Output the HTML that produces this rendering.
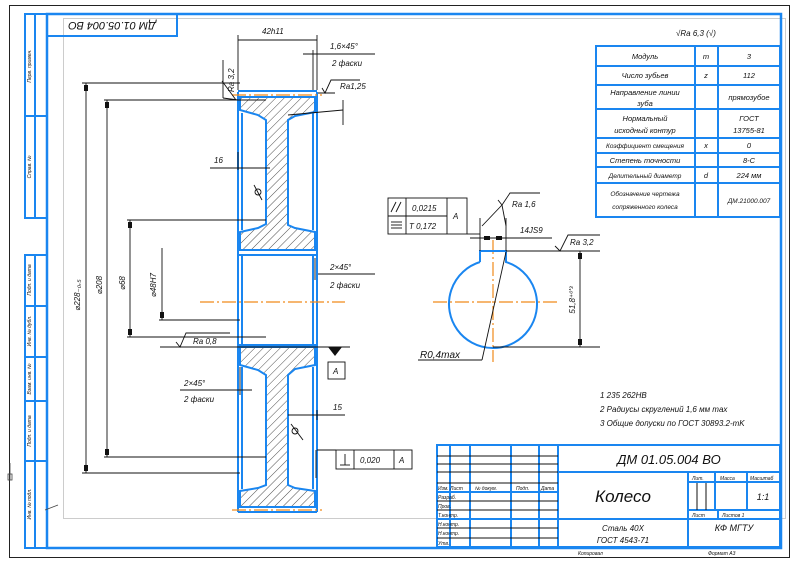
<!DOCTYPE html>
<html><head><meta charset="utf-8"><style>
html,body{margin:0;padding:0;background:#fff}
svg{display:block}
text{font-family:"Liberation Sans","DejaVu Sans",sans-serif;font-style:italic;fill:#111}
</style></head><body>
<svg width="797" height="568" viewBox="0 0 797 568" xmlns="http://www.w3.org/2000/svg">
<defs>
<pattern id="h" patternUnits="userSpaceOnUse" width="6" height="6" patternTransform="rotate(45)">
<line x1="0" y1="0" x2="0" y2="6" stroke="#222" stroke-width="0.8"/>
</pattern>
</defs>
<!-- frames -->
<rect x="9.5" y="5.5" width="780" height="552" fill="none" stroke="#222" stroke-width="1"/>
<rect x="63.5" y="18.5" width="722" height="500" fill="none" stroke="#ccc" stroke-width="1"/>
<rect x="47" y="14" width="734" height="534" fill="none" stroke="#1a86f0" stroke-width="2.5"/>
<!-- left stamps -->
<g fill="none" stroke="#1a86f0" stroke-width="2">
<rect x="25" y="14" width="22" height="204"/><line x1="35" y1="14" x2="35" y2="218"/><line x1="25" y1="116" x2="47" y2="116"/>
<rect x="25" y="255" width="22" height="293"/><line x1="35" y1="255" x2="35" y2="548"/>
<line x1="25" y1="306" x2="47" y2="306"/><line x1="25" y1="357" x2="47" y2="357"/><line x1="25" y1="401" x2="47" y2="401"/><line x1="25" y1="461" x2="47" y2="461"/>
<rect x="47" y="14" width="130" height="22"/>
</g>
<g font-size="5">
<text transform="translate(31,66) rotate(-90)" text-anchor="middle">Перв. примен.</text>
<text transform="translate(31,167) rotate(-90)" text-anchor="middle">Справ. №</text>
<text transform="translate(31,280) rotate(-90)" text-anchor="middle">Подп. и дата</text>
<text transform="translate(31,331) rotate(-90)" text-anchor="middle">Инв. № дубл.</text>
<text transform="translate(31,379) rotate(-90)" text-anchor="middle">Взам. инв. №</text>
<text transform="translate(31,431) rotate(-90)" text-anchor="middle">Подп. и дата</text>
<text transform="translate(31,504) rotate(-90)" text-anchor="middle">Инв. № подл.</text>
</g>
<text transform="translate(112,25) rotate(180)" text-anchor="middle" dominant-baseline="middle" font-size="11">ДМ 01.05.004 ВО</text>
<!-- axes -->
<g stroke="#444" fill="none" stroke-width="0.8"><line x1="10" y1="463" x2="10" y2="480"/><line x1="45" y1="510" x2="58" y2="505"/><rect x="8" y="474" width="4" height="6"/></g>

<!-- wheel section hatched -->
<g fill="url(#h)" stroke="#1a86f0" stroke-width="2">
<polygon points="240,97 315,97 315,112 295,116 288,120 288,225 295,228 315,232 315,250 240,250 240,232 258,228 266,224 266,120 258,115 240,110"/>
<polygon points="240,347 315,347 315,365 295,369 288,375 288,485 295,488 315,491 315,507 240,507 240,491 258,488 266,485 266,375 258,370 240,365"/>
</g>
<g fill="none" stroke="#1a86f0" stroke-width="2">
<line x1="238" y1="92" x2="238" y2="512"/><line x1="317" y1="92" x2="317" y2="512"/>
<line x1="242" y1="113" x2="242" y2="230"/><line x1="313" y1="113" x2="313" y2="230"/>
<line x1="242" y1="367" x2="242" y2="489"/><line x1="313" y1="367" x2="313" y2="489"/>
<line x1="242" y1="255" x2="242" y2="345"/><line x1="313" y1="255" x2="313" y2="345"/>
<line x1="238" y1="91" x2="317" y2="91"/><line x1="238" y1="512" x2="317" y2="512"/>
<line x1="238" y1="255" x2="317" y2="255"/><line x1="238" y1="345" x2="317" y2="345"/>
</g>
<g stroke="#f08a1a" stroke-width="1.2" stroke-dasharray="14,3,2,3">
<line x1="232" y1="95" x2="322" y2="95"/><line x1="232" y1="510" x2="322" y2="510"/>
<line x1="200" y1="302" x2="345" y2="302"/>
<line x1="433" y1="302" x2="557" y2="302"/><line x1="493" y1="240" x2="493" y2="362"/>
</g>

<!-- dimensions left -->
<g stroke="#111" stroke-width="0.9" fill="none">
<line x1="238" y1="35" x2="238" y2="90"/><line x1="317" y1="35" x2="317" y2="90"/><line x1="238" y1="40" x2="317" y2="40"/>
<line x1="303" y1="54" x2="375" y2="54"/><line x1="313" y1="50" x2="313" y2="90"/>
<line x1="318" y1="93" x2="335" y2="93"/><polyline points="322,88 325,93 331,80 360,80"/>
<line x1="222" y1="81" x2="236" y2="100"/><line x1="223" y1="60" x2="223" y2="98"/><line x1="223" y1="98" x2="238" y2="100"/>
<line x1="210" y1="168" x2="270" y2="168"/><line x1="238" y1="152" x2="238" y2="170"/>
<line x1="288" y1="115" x2="343" y2="110"/><line x1="343" y1="100" x2="343" y2="125"/>
<line x1="82" y1="83" x2="240" y2="83"/><line x1="82" y1="473" x2="240" y2="473"/><line x1="86" y1="83" x2="86" y2="473"/>
<line x1="104" y1="100" x2="266" y2="100"/><line x1="104" y1="457" x2="266" y2="457"/><line x1="107" y1="100" x2="107" y2="457"/>
<line x1="127" y1="220" x2="266" y2="220"/><line x1="127" y1="337" x2="266" y2="337"/><line x1="130" y1="220" x2="130" y2="337"/>
<line x1="159" y1="320" x2="240" y2="320"/><line x1="162" y1="248" x2="162" y2="320"/>
<line x1="160" y1="347" x2="350" y2="347"/><polyline points="176,342 180,347 186,333 230,333"/>
<line x1="318" y1="274" x2="375" y2="274"/><line x1="315" y1="258" x2="315" y2="280"/>
<line x1="180" y1="390" x2="252" y2="390"/><line x1="240" y1="367" x2="240" y2="395"/>
<line x1="288" y1="415" x2="345" y2="415"/><line x1="317" y1="410" x2="317" y2="420"/>
<line x1="317" y1="450" x2="336" y2="450"/><line x1="316" y1="450" x2="316" y2="478"/>
<circle cx="258" cy="192" r="3"/><line x1="254" y1="185" x2="262" y2="200"/>
<circle cx="295" cy="431" r="3"/><line x1="291" y1="424" x2="303" y2="440"/>
</g>
<g fill="#111">
<rect x="84" y="85" width="4" height="6"/><rect x="84" y="465" width="4" height="6"/>
<rect x="105" y="102" width="4" height="6"/><rect x="105" y="449" width="4" height="6"/>
<rect x="128" y="222" width="4" height="6"/><rect x="128" y="329" width="4" height="6"/>
<rect x="160" y="312" width="4" height="6"/>
<polygon points="328,347 342,347 335,356"/>
</g>
<g font-size="8">
<text x="262" y="34">42h11</text>
<text x="330" y="49">1,6×45°</text>
<text x="332" y="66">2 фаски</text>
<text x="340" y="89">Ra1,25</text>
<text transform="translate(234,92) rotate(-90)">Ra 3,2</text>
<text x="214" y="163">16</text>
<text transform="translate(80,295) rotate(-90)" text-anchor="middle">⌀228₋₀,₅</text>
<text transform="translate(102,285) rotate(-90)" text-anchor="middle">⌀208</text>
<text transform="translate(125,283) rotate(-90)" text-anchor="middle">⌀68</text>
<text transform="translate(156,285) rotate(-90)" text-anchor="middle">⌀48H7</text>
<text x="193" y="344">Ra 0,8</text>
<text x="330" y="270">2×45°</text>
<text x="330" y="288">2 фаски</text>
<text x="184" y="386">2×45°</text>
<text x="184" y="402">2 фаски</text>
<text x="333" y="410">15</text>
</g>
<rect x="328" y="362" width="17" height="17" fill="#fff" stroke="#111" stroke-width="0.9"/>
<text x="333" y="374" font-size="8" fill="#33f">A</text>
<g stroke="#111" stroke-width="0.9" fill="none">
<rect x="336" y="450" width="76" height="19"/><line x1="354" y1="450" x2="354" y2="469"/><line x1="394" y1="450" x2="394" y2="469"/>
<line x1="345" y1="454" x2="345" y2="465"/><line x1="340" y1="465" x2="350" y2="465"/>
</g>
<text x="360" y="463" font-size="8">0,020</text><text x="399" y="463" font-size="8">A</text>

<!-- key view -->
<path d="M480,262 L480,251 L506,251 L506,262 A44,44 0 1 1 480,262" fill="none" stroke="#1a86f0" stroke-width="2"/>
<g stroke="#111" stroke-width="0.9" fill="none">
<line x1="506" y1="251" x2="600" y2="251"/><line x1="493" y1="347" x2="600" y2="347"/><line x1="580" y1="251" x2="580" y2="347"/>
<polyline points="555,246 560,251 568,235 600,235"/>
<line x1="480" y1="218" x2="480" y2="251"/><line x1="506" y1="218" x2="506" y2="251"/><line x1="470" y1="238" x2="552" y2="238"/>
<polyline points="498,200 502,205 510,193 540,193"/><line x1="502" y1="205" x2="482" y2="226"/><line x1="502" y1="205" x2="506" y2="226"/>
<line x1="467" y1="234" x2="480" y2="234"/>
<line x1="418" y1="360" x2="482" y2="360"/><line x1="482" y1="360" x2="506" y2="252"/>
<rect x="388" y="198" width="79" height="36"/><line x1="388" y1="216" x2="447" y2="216"/><line x1="406" y1="198" x2="406" y2="234"/><line x1="447" y1="198" x2="447" y2="234"/>
<line x1="391" y1="212" x2="396" y2="202"/><line x1="396" y1="212" x2="401" y2="202"/>
<line x1="391" y1="222" x2="402" y2="222"/><line x1="391" y1="225" x2="402" y2="225"/><line x1="391" y1="228" x2="402" y2="228"/>
</g>
<g fill="#111"><rect x="578" y="253" width="4" height="6"/><rect x="578" y="339" width="4" height="6"/><rect x="484" y="236" width="6" height="4"/><rect x="496" y="236" width="6" height="4"/></g>
<g font-size="8">
<text x="412" y="211">0,0215</text><text x="409" y="229">T 0,172</text><text x="453" y="219">A</text>
<text x="512" y="207">Ra 1,6</text><text x="520" y="233">14JS9</text><text x="570" y="245">Ra 3,2</text>
<text transform="translate(575,300) rotate(-90)" text-anchor="middle">51,8⁺⁰'³</text>
<text x="420" y="358" font-size="10">R0,4max</text>
</g>

<!-- parameter table -->
<text x="676" y="36" font-size="8">√Ra 6,3 (√)</text>
<g fill="none" stroke="#1a86f0" stroke-width="2">
<rect x="596" y="46" width="184" height="171"/>
<line x1="695" y1="46" x2="695" y2="217"/><line x1="718" y1="46" x2="718" y2="217"/>
<line x1="596" y1="66" x2="780" y2="66"/><line x1="596" y1="85" x2="780" y2="85"/><line x1="596" y1="109" x2="780" y2="109"/>
<line x1="596" y1="138" x2="780" y2="138"/><line x1="596" y1="153" x2="780" y2="153"/><line x1="596" y1="167" x2="780" y2="167"/><line x1="596" y1="183" x2="780" y2="183"/>
</g>
<g font-size="7.5" text-anchor="middle">
<text x="645" y="59">Модуль</text><text x="706" y="59">m</text><text x="749" y="59">3</text>
<text x="645" y="78">Число зубьев</text><text x="706" y="78">z</text><text x="749" y="78">112</text>
<text x="645" y="95">Направление линии</text><text x="645" y="106">зуба</text><text x="749" y="100">прямозубое</text>
<text x="645" y="121">Нормальный</text><text x="645" y="133">исходный контур</text><text x="749" y="121">ГОСТ</text><text x="749" y="133">13755-81</text>
<text x="645" y="148" font-size="6.5">Коэффициент смещения</text><text x="706" y="148">x</text><text x="749" y="148">0</text>
<text x="645" y="163">Степень точности</text><text x="749" y="163">8-C</text>
<text x="645" y="178" font-size="6.5">Делительный диаметр</text><text x="706" y="178">d</text><text x="749" y="178">224 мм</text>
<text x="645" y="196" font-size="6.5">Обозначение чертежа</text><text x="645" y="209" font-size="6.5">сопряженного колеса</text><text x="749" y="203" font-size="6.5">ДМ.21000.007</text>
</g>
<g font-size="8">
<text x="600" y="398">1 235 262НВ</text>
<text x="600" y="412">2 Радиусы скруглений 1,6 мм max</text>
<text x="600" y="426">3 Общие допуски по ГОСТ 30893.2-mK</text>
</g>

<!-- title block -->
<g fill="none" stroke="#1a86f0" stroke-width="2">
<rect x="437" y="445" width="343" height="102"/>
<line x1="450" y1="445" x2="450" y2="547"/><line x1="470" y1="445" x2="470" y2="547"/><line x1="511" y1="445" x2="511" y2="547"/><line x1="539" y1="445" x2="539" y2="547"/><line x1="558" y1="445" x2="558" y2="547"/>
<line x1="558" y1="472" x2="780" y2="472"/><line x1="437" y1="492" x2="558" y2="492"/>
<line x1="437" y1="519" x2="780" y2="519"/><line x1="688" y1="472" x2="688" y2="547"/>
<line x1="688" y1="482" x2="780" y2="482"/><line x1="688" y1="510" x2="780" y2="510"/>
<line x1="715" y1="472" x2="715" y2="510"/><line x1="747" y1="472" x2="747" y2="510"/><line x1="718" y1="510" x2="718" y2="519"/>
</g>
<g stroke="#111" stroke-width="1">
<line x1="437" y1="456" x2="558" y2="456"/><line x1="437" y1="464" x2="558" y2="464"/><line x1="437" y1="472" x2="558" y2="472"/><line x1="437" y1="483" x2="558" y2="483"/>
<line x1="437" y1="501" x2="558" y2="501"/><line x1="437" y1="510" x2="558" y2="510"/><line x1="437" y1="528" x2="558" y2="528"/><line x1="437" y1="538" x2="558" y2="538"/>
<line x1="697" y1="483" x2="697" y2="510"/><line x1="706" y1="483" x2="706" y2="510"/>
</g>
<g font-size="5">
<text x="438" y="490">Изм. Лист</text><text x="475" y="490">№ докум.</text><text x="516" y="490">Подп.</text><text x="541" y="490">Дата</text>
<text x="438" y="499">Разраб.</text><text x="438" y="508">Пров.</text><text x="438" y="517">Т.контр.</text><text x="438" y="526">Н.контр.</text><text x="438" y="535">Н.контр.</text><text x="438" y="545">Утв.</text>
<text x="692" y="480">Лит.</text><text x="720" y="480">Масса</text><text x="750" y="480">Масштаб</text>
<text x="692" y="517">Лист</text><text x="722" y="517">Листов 1</text>
<text x="578" y="555">Копировал</text><text x="708" y="555">Формат А3</text>
</g>
<text x="669" y="464" font-size="13" text-anchor="middle">ДМ 01.05.004 ВО</text>
<text x="623" y="502" font-size="17" text-anchor="middle">Колесо</text>
<text x="763" y="500" font-size="9" text-anchor="middle">1:1</text>
<text x="623" y="531" font-size="8" text-anchor="middle">Сталь 40Х</text>
<text x="623" y="543" font-size="8" text-anchor="middle">ГОСТ 4543-71</text>
<text x="734" y="531" font-size="9" text-anchor="middle">КФ МГТУ</text>
</svg>
</body></html>
